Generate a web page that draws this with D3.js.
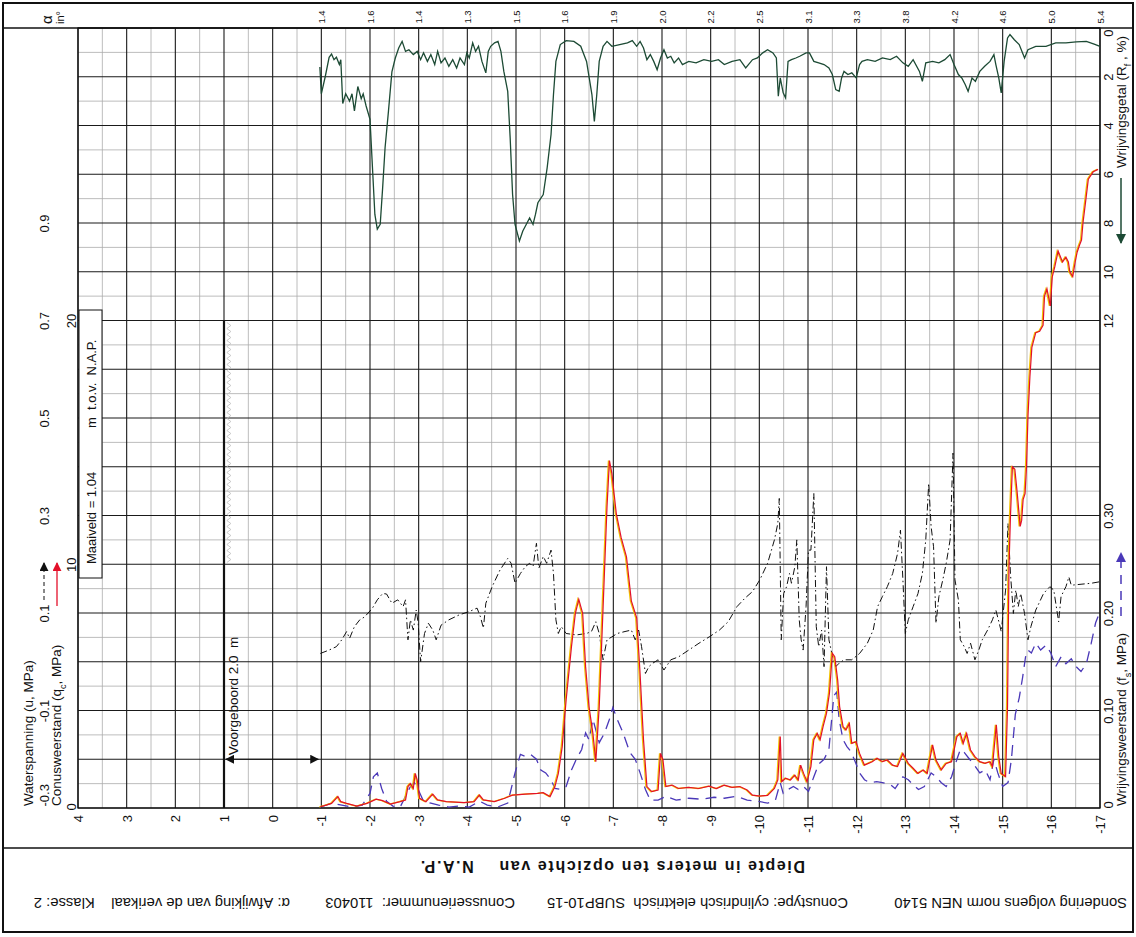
<!DOCTYPE html>
<html>
<head>
<meta charset="utf-8">
<script src="https://cdn.jsdelivr.net/npm/d3@7"></script>
<style>
body { margin: 0; background: #fff; }
svg text { font-family: "Liberation Sans", Arial, sans-serif; fill: #111; }
</style>
</head>
<body>
<svg id="sondering" width="1136" height="937"></svg>
<script>
// depth in m t.o.v. N.A.P.
const depthTicks = [4, 3, 2, 1, 0, -1, -2, -3, -4, -5, -6, -7, -8, -9, -10, -11, -12, -13, -14, -15, -16, -17];
const alphaDepths = [-1, -2, -3, -4, -5, -6, -7, -8, -9, -10, -11, -12, -13, -14, -15, -16, -17];
const alphaLabels = ["1.4", "1.6", "1.4", "1.3", "1.5", "1.6", "1.9", "2.0", "2.2", "2.5", "3.1", "3.3", "3.8", "4.2", "4.6", "5.0", "5.4"];
const uTicks = [-0.3, -0.1, 0.1, 0.3, 0.5, 0.7, 0.9];
const qcTicks = [0, 10, 20];
const rfTicks = [0, 2, 4, 6, 8, 10, 12];
const fsTicks = [0, 0.1, 0.2, 0.3];

// [depth, Rf %]
const rfProfile = [[-0.97,1.6],[-1.0,2.7],[-1.08,2.0],[-1.16,1.2],[-1.21,1.07],[-1.26,1.3],[-1.31,1.2],[-1.37,1.5],[-1.40,1.3],[-1.44,3.1],[-1.50,2.7],[-1.58,3.0],[-1.63,2.7],[-1.68,3.4],[-1.75,2.4],[-1.82,2.9],[-1.86,2.7],[-1.92,3.2],[-2.0,3.75],[-2.05,5.7],[-2.10,7.65],[-2.15,8.25],[-2.21,8.05],[-2.26,6.55],[-2.31,4.9],[-2.38,3.4],[-2.45,1.8],[-2.52,1.23],[-2.59,0.82],[-2.66,0.55],[-2.73,0.96],[-2.80,0.89],[-2.89,1.09],[-2.97,0.96],[-3.04,1.3],[-3.10,1.02],[-3.18,1.37],[-3.25,1.09],[-3.33,1.5],[-3.39,0.96],[-3.46,1.43],[-3.54,1.23],[-3.62,1.57],[-3.70,1.3],[-3.78,1.64],[-3.85,1.23],[-3.94,1.5],[-3.99,1.02],[-4.04,1.23],[-4.11,0.61],[-4.17,0.96],[-4.23,0.75],[-4.30,1.37],[-4.38,1.84],[-4.43,0.96],[-4.48,0.75],[-4.56,0.61],[-4.63,0.55],[-4.69,0.96],[-4.75,1.78],[-4.83,2.6],[-4.88,4.5],[-4.93,6.83],[-4.98,8.06],[-5.07,8.74],[-5.14,8.33],[-5.21,8.06],[-5.28,7.79],[-5.35,8.06],[-5.40,7.65],[-5.45,7.17],[-5.56,6.83],[-5.64,5.74],[-5.72,4.37],[-5.77,2.73],[-5.82,1.37],[-5.91,0.68],[-6.03,0.52],[-6.19,0.55],[-6.33,0.75],[-6.45,1.37],[-6.56,2.73],[-6.61,3.83],[-6.66,2.73],[-6.71,1.37],[-6.79,0.75],[-6.87,0.55],[-6.97,0.75],[-7.13,0.68],[-7.29,0.61],[-7.39,0.52],[-7.48,0.75],[-7.55,0.55],[-7.62,0.82],[-7.69,1.3],[-7.76,1.09],[-7.83,1.37],[-7.90,1.71],[-7.97,1.23],[-8.04,0.89],[-8.11,1.23],[-8.18,1.16],[-8.25,1.43],[-8.34,1.23],[-8.42,1.5],[-8.55,1.37],[-8.70,1.43],[-8.86,1.3],[-9.02,1.37],[-9.16,1.3],[-9.28,1.5],[-9.44,1.37],[-9.60,1.3],[-9.72,1.64],[-9.86,1.3],[-9.96,1.23],[-10.07,1.02],[-10.17,0.89],[-10.28,1.02],[-10.35,1.23],[-10.39,2.8],[-10.43,2.05],[-10.49,2.66],[-10.54,2.87],[-10.59,1.37],[-10.66,1.3],[-10.75,1.23],[-10.83,1.16],[-10.96,1.02],[-11.03,1.02],[-11.12,1.37],[-11.22,1.43],[-11.33,1.5],[-11.43,1.64],[-11.50,1.91],[-11.57,2.53],[-11.64,2.6],[-11.69,2.05],[-11.74,1.78],[-11.82,1.91],[-11.90,1.84],[-11.99,2.05],[-12.06,1.5],[-12.11,1.37],[-12.22,1.3],[-12.38,1.37],[-12.53,1.23],[-12.69,1.3],[-12.82,1.16],[-12.95,1.43],[-13.06,1.57],[-13.16,1.3],[-13.29,1.78],[-13.35,2.19],[-13.42,1.43],[-13.56,1.37],[-13.69,1.43],[-13.81,1.3],[-13.92,1.09],[-14.0,1.5],[-14.09,1.91],[-14.16,2.05],[-14.23,2.32],[-14.29,2.6],[-14.37,2.05],[-14.44,2.19],[-14.53,1.78],[-14.63,1.57],[-14.74,1.37],[-14.82,1.09],[-14.86,1.5],[-14.92,2.05],[-14.97,2.66],[-15.03,1.37],[-15.10,0.41],[-15.15,0.27],[-15.24,0.48],[-15.34,0.68],[-15.45,1.23],[-15.52,0.89],[-15.68,0.75],[-15.89,0.75],[-16.09,0.61],[-16.30,0.61],[-16.51,0.57],[-16.72,0.55],[-16.88,0.66],[-17.0,0.75]];

// [depth, qc MPa]
const qcProfile = [[-0.98,0.05],[-1.1,0.12],[-1.21,0.19],[-1.34,0.47],[-1.40,0.26],[-1.52,0.19],[-1.73,0.08],[-1.94,0.19],[-2.13,0.36],[-2.26,0.3],[-2.42,0.16],[-2.62,0.26],[-2.73,0.33],[-2.78,0.88],[-2.83,1.0],[-2.89,0.8],[-2.93,1.42],[-2.97,1.15],[-3.02,0.4],[-3.15,0.26],[-3.29,0.57],[-3.39,0.33],[-3.57,0.26],[-3.94,0.22],[-4.14,0.26],[-4.25,0.53],[-4.33,0.33],[-4.56,0.26],[-4.77,0.4],[-4.93,0.53],[-5.19,0.57],[-5.45,0.6],[-5.56,0.63],[-5.70,0.47],[-5.80,0.88],[-5.87,1.42],[-5.95,2.52],[-6.03,4.43],[-6.14,6.62],[-6.22,7.99],[-6.29,8.56],[-6.37,7.99],[-6.43,5.8],[-6.50,4.16],[-6.58,3.06],[-6.64,1.9],[-6.71,4.16],[-6.79,8.26],[-6.87,12.37],[-6.92,14.25],[-6.97,13.73],[-7.06,12.09],[-7.16,11.1],[-7.27,10.3],[-7.37,8.5],[-7.48,7.8],[-7.55,5.5],[-7.62,2.8],[-7.69,0.88],[-7.79,0.67],[-7.92,0.74],[-7.97,2.24],[-8.02,1.97],[-8.08,0.88],[-8.21,0.94],[-8.34,0.8],[-8.55,0.85],[-8.76,0.8],[-8.97,0.9],[-9.12,0.8],[-9.28,0.94],[-9.44,0.85],[-9.60,0.88],[-9.75,0.74],[-9.86,0.53],[-10.01,0.49],[-10.17,0.52],[-10.31,0.8],[-10.38,1.15],[-10.43,2.93],[-10.46,1.08],[-10.54,1.22],[-10.64,1.15],[-10.73,1.35],[-10.80,1.15],[-10.85,1.76],[-10.91,1.42],[-10.98,1.08],[-11.06,1.7],[-11.12,2.8],[-11.19,3.06],[-11.25,2.8],[-11.31,3.34],[-11.38,3.88],[-11.44,4.7],[-11.50,6.35],[-11.55,6.21],[-11.61,5.25],[-11.65,4.16],[-11.72,3.34],[-11.78,3.2],[-11.85,3.47],[-11.90,2.65],[-11.99,2.72],[-12.06,2.24],[-12.16,1.76],[-12.32,1.9],[-12.42,2.04],[-12.53,1.9],[-12.63,1.97],[-12.74,1.76],[-12.84,1.7],[-12.95,2.24],[-13.06,1.83],[-13.16,1.63],[-13.26,1.42],[-13.37,1.56],[-13.45,1.42],[-13.56,2.59],[-13.63,1.97],[-13.74,1.56],[-13.84,1.83],[-13.95,1.9],[-14.06,2.93],[-14.13,3.06],[-14.19,2.65],[-14.26,3.06],[-14.34,2.38],[-14.43,2.11],[-14.53,1.9],[-14.64,1.83],[-14.74,1.9],[-14.79,1.7],[-14.87,3.41],[-14.92,2.11],[-14.97,1.42],[-15.06,1.29],[-15.10,4.2],[-15.13,9.9],[-15.16,11.96],[-15.2,14.0],[-15.25,13.9],[-15.3,12.9],[-15.36,11.55],[-15.39,11.8],[-15.42,12.65],[-15.46,12.9],[-15.49,14.0],[-15.52,16.07],[-15.56,17.7],[-15.6,18.9],[-15.68,19.5],[-15.76,19.56],[-15.83,19.8],[-15.86,21.0],[-15.91,21.3],[-15.98,20.6],[-16.02,21.8],[-16.07,22.2],[-16.14,22.85],[-16.23,22.4],[-16.3,22.6],[-16.35,22.4],[-16.38,22.0],[-16.44,21.8],[-16.49,22.4],[-16.53,22.8],[-16.58,23.1],[-16.62,23.3],[-16.65,24.0],[-16.71,24.97],[-16.76,25.8],[-16.86,26.1],[-16.96,26.2]];

// [depth, fs MPa]
const fsProfile = [[-0.98,0.001],[-1.21,0.005],[-1.42,0.003],[-1.63,0.001],[-1.84,0.003],[-2.0,0.015],[-2.07,0.032],[-2.15,0.036],[-2.24,0.02],[-2.34,0.007],[-2.47,0.002],[-2.62,0.001],[-2.73,0.012],[-2.83,0.022],[-2.91,0.026],[-2.99,0.019],[-3.10,0.007],[-3.25,0.005],[-3.41,0.003],[-3.62,0.001],[-3.83,0.002],[-4.04,0.001],[-4.25,0.007],[-4.41,0.003],[-4.62,0.001],[-4.83,0.005],[-4.98,0.036],[-5.09,0.055],[-5.19,0.053],[-5.30,0.055],[-5.42,0.05],[-5.51,0.039],[-5.61,0.036],[-5.72,0.029],[-5.80,0.02],[-5.93,0.019],[-6.03,0.022],[-6.14,0.039],[-6.24,0.05],[-6.35,0.06],[-6.43,0.077],[-6.50,0.07],[-6.58,0.091],[-6.64,0.08],[-6.71,0.067],[-6.82,0.077],[-6.92,0.091],[-6.99,0.103],[-7.08,0.091],[-7.20,0.077],[-7.34,0.057],[-7.45,0.05],[-7.55,0.036],[-7.66,0.019],[-7.76,0.008],[-7.92,0.008],[-8.08,0.012],[-8.29,0.008],[-8.55,0.01],[-8.81,0.009],[-9.07,0.011],[-9.28,0.01],[-9.54,0.012],[-9.75,0.008],[-9.96,0.007],[-10.17,0.005],[-10.33,0.008],[-10.43,0.026],[-10.49,0.015],[-10.59,0.019],[-10.70,0.022],[-10.80,0.019],[-10.91,0.022],[-11.01,0.017],[-11.12,0.032],[-11.22,0.045],[-11.33,0.05],[-11.43,0.06],[-11.53,0.115],[-11.59,0.119],[-11.64,0.091],[-11.72,0.07],[-11.80,0.063],[-11.88,0.058],[-11.95,0.05],[-12.06,0.036],[-12.16,0.029],[-12.27,0.026],[-12.41,0.027],[-12.53,0.026],[-12.69,0.024],[-12.79,0.02],[-12.95,0.032],[-13.06,0.029],[-13.16,0.024],[-13.27,0.019],[-13.39,0.022],[-13.53,0.036],[-13.63,0.032],[-13.74,0.026],[-13.84,0.022],[-13.95,0.032],[-14.06,0.05],[-14.13,0.06],[-14.21,0.057],[-14.32,0.05],[-14.43,0.043],[-14.53,0.036],[-14.64,0.039],[-14.74,0.029],[-14.82,0.05],[-14.90,0.036],[-15.0,0.022],[-15.11,0.026],[-15.18,0.05],[-15.26,0.096],[-15.34,0.113],[-15.41,0.134],[-15.47,0.155],[-15.52,0.162],[-15.59,0.159],[-15.68,0.169],[-15.78,0.162],[-15.89,0.167],[-15.99,0.159],[-16.09,0.145],[-16.20,0.155],[-16.30,0.148],[-16.41,0.153],[-16.51,0.145],[-16.61,0.14],[-16.72,0.148],[-16.82,0.169],[-16.91,0.19],[-16.98,0.199]];

// [depth, u MPa]
const uProfile = [[-0.98,0.017],[-1.16,0.024],[-1.31,0.031],[-1.42,0.045],[-1.52,0.062],[-1.58,0.048],[-1.68,0.072],[-1.79,0.086],[-1.89,0.092],[-2.05,0.11],[-2.15,0.127],[-2.26,0.14],[-2.34,0.139],[-2.45,0.12],[-2.57,0.127],[-2.68,0.113],[-2.73,0.127],[-2.78,0.045],[-2.83,0.086],[-2.89,0.065],[-2.95,0.106],[-2.99,0.079],[-3.04,0.0],[-3.12,0.058],[-3.20,0.079],[-3.29,0.065],[-3.36,0.045],[-3.46,0.075],[-3.62,0.086],[-3.83,0.096],[-4.04,0.103],[-4.20,0.11],[-4.27,0.092],[-4.33,0.069],[-4.38,0.12],[-4.51,0.154],[-4.67,0.188],[-4.83,0.212],[-4.90,0.202],[-4.98,0.161],[-5.09,0.181],[-5.19,0.195],[-5.28,0.202],[-5.35,0.195],[-5.42,0.243],[-5.47,0.192],[-5.56,0.216],[-5.63,0.202],[-5.72,0.229],[-5.77,0.181],[-5.82,0.086],[-5.87,0.058],[-5.93,0.072],[-6.03,0.058],[-6.24,0.055],[-6.45,0.058],[-6.55,0.062],[-6.64,0.082],[-6.71,0.058],[-6.79,0.004],[-6.87,0.045],[-6.97,0.051],[-7.08,0.058],[-7.24,0.062],[-7.37,0.065],[-7.45,0.045],[-7.52,0.065],[-7.58,0.031],[-7.66,-0.024],[-7.73,-0.01],[-7.81,-0.003],[-7.92,0.004],[-8.04,-0.017],[-8.18,0.004],[-8.34,0.01],[-8.55,0.024],[-8.76,0.038],[-8.97,0.051],[-9.18,0.065],[-9.36,0.082],[-9.54,0.113],[-9.70,0.13],[-9.86,0.144],[-10.01,0.168],[-10.17,0.202],[-10.31,0.25],[-10.38,0.284],[-10.41,0.335],[-10.45,0.045],[-10.50,0.14],[-10.56,0.154],[-10.62,0.181],[-10.66,0.161],[-10.73,0.195],[-10.77,0.25],[-10.82,0.086],[-10.86,0.045],[-10.90,0.024],[-10.96,0.113],[-11.01,0.229],[-11.06,0.229],[-11.12,0.345],[-11.17,0.072],[-11.22,0.031],[-11.28,0.065],[-11.33,-0.01],[-11.38,0.195],[-11.43,0.045],[-11.49,0.017],[-11.57,-0.01],[-11.64,-0.003],[-11.74,0.004],[-11.90,0.004],[-12.06,0.017],[-12.22,0.038],[-12.34,0.065],[-12.43,0.113],[-12.53,0.134],[-12.63,0.154],[-12.74,0.181],[-12.84,0.222],[-12.90,0.27],[-12.95,0.168],[-13.0,0.058],[-13.06,0.086],[-13.16,0.113],[-13.26,0.14],[-13.35,0.181],[-13.42,0.25],[-13.48,0.366],[-13.53,0.277],[-13.58,0.236],[-13.63,0.079],[-13.69,0.134],[-13.77,0.168],[-13.84,0.202],[-13.92,0.25],[-13.98,0.428],[-14.02,0.168],[-14.09,0.127],[-14.13,0.045],[-14.21,0.031],[-14.27,0.017],[-14.34,0.038],[-14.43,0.004],[-14.51,0.024],[-14.58,0.045],[-14.69,0.065],[-14.79,0.086],[-14.86,0.106],[-14.93,0.079],[-14.97,0.062],[-15.06,0.147],[-15.11,0.284],[-15.16,0.181],[-15.22,0.099],[-15.27,0.147],[-15.32,0.113],[-15.37,0.14],[-15.45,0.099],[-15.52,0.045],[-15.58,0.072],[-15.68,0.106],[-15.84,0.14],[-15.97,0.154],[-16.05,0.147],[-16.15,0.082],[-16.20,0.134],[-16.30,0.154],[-16.36,0.174],[-16.41,0.157],[-16.61,0.159],[-16.82,0.161],[-16.99,0.164]];

const svg = d3.select("#sondering");
const plotLeft = 78, plotRight = 1100, plotTop = 28, plotBottom = 808;

const x = d3.scaleLinear().domain([4, -17]).range([plotLeft, plotRight]);
const yQc = d3.scaleLinear().domain([0, 32]).range([plotBottom, plotTop]);
const yFs = d3.scaleLinear().domain([0, 0.8]).range([plotBottom, plotTop]);
const yRf = d3.scaleLinear().domain([0, 32]).range([plotTop, plotBottom]);
const yU = d3.scaleLinear().domain([-0.3, 1.3]).range([plotBottom, plotTop]);

// arrow heads
const defs = svg.append("defs");
function marker(id, color, size) {
    defs.append("marker")
        .attr("id", id)
        .attr("viewBox", "0 0 10 10")
        .attr("refX", 9).attr("refY", 5)
        .attr("markerWidth", size).attr("markerHeight", size)
        .attr("markerUnits", "userSpaceOnUse")
        .attr("orient", "auto-start-reverse")
        .append("path")
        .attr("d", "M0,0 L10,5 L0,10 z")
        .attr("fill", color);
}
marker("arrBlack", "#111", 9);
marker("arrRed", "#e3102a", 9);
marker("arrGreen", "#1c4a34", 10);
marker("arrPurple", "#4a38b8", 10);

// grid
const grid = svg.append("g");
const halfDepths = d3.range(8, -35, -1).map(d => d / 2);
const qcSteps = d3.range(0, 33, 1);
grid.selectAll(".vminor").data(halfDepths.filter(d => d % 1 !== 0)).join("line")
    .attr("x1", d => x(d)).attr("x2", d => x(d))
    .attr("y1", plotTop).attr("y2", plotBottom)
    .attr("stroke", "#ababab").attr("stroke-width", 0.8);
grid.selectAll(".hminor").data(qcSteps.filter(d => d % 2 !== 0)).join("line")
    .attr("x1", plotLeft).attr("x2", plotRight)
    .attr("y1", d => yQc(d)).attr("y2", d => yQc(d))
    .attr("stroke", "#ababab").attr("stroke-width", 0.8);
grid.selectAll(".vmajor").data(depthTicks).join("line")
    .attr("x1", d => x(d)).attr("x2", d => x(d))
    .attr("y1", plotTop).attr("y2", plotBottom)
    .attr("stroke", "#1a1a1a").attr("stroke-width", 1.1);
grid.selectAll(".hmajor").data(qcSteps.filter(d => d % 2 === 0)).join("line")
    .attr("x1", plotLeft).attr("x2", plotRight)
    .attr("y1", d => yQc(d)).attr("y2", d => yQc(d))
    .attr("stroke", "#1a1a1a").attr("stroke-width", 1.1);

// frame
svg.append("rect").attr("x", 3).attr("y", 3).attr("width", 1130).attr("height", 929)
    .attr("fill", "none").attr("stroke", "#111").attr("stroke-width", 2);
svg.append("line").attr("x1", 3).attr("x2", 1133).attr("y1", plotTop).attr("y2", plotTop)
    .attr("stroke", "#111").attr("stroke-width", 1.5);
svg.append("line").attr("x1", 3).attr("x2", 1133).attr("y1", 848).attr("y2", 848)
    .attr("stroke", "#111").attr("stroke-width", 1.5);
svg.append("rect").attr("x", plotLeft).attr("y", plotTop).attr("width", plotRight - plotLeft).attr("height", plotBottom - plotTop)
    .attr("fill", "none").attr("stroke", "#111").attr("stroke-width", 1.3);

// pre-drilled part and ground level
svg.append("line")
    .attr("x1", x(1)).attr("x2", x(1)).attr("y1", yQc(20)).attr("y2", plotBottom)
    .attr("stroke", "#111").attr("stroke-width", 2.2);
const zig = d3.range(yQc(20) + 2, yQc(10), 3).map((py, i) => [x(0.9) + (i % 2 ? 2 : -2), py]);
svg.append("path").attr("d", d3.line()(zig))
    .attr("fill", "none").attr("stroke", "#bdbdbd").attr("stroke-width", 0.8);
svg.append("line")
    .attr("x1", x(1) + 2).attr("x2", x(-1) - 3).attr("y1", yQc(2)).attr("y2", yQc(2))
    .attr("stroke", "#111").attr("stroke-width", 1.2)
    .attr("marker-start", "url(#arrBlack)").attr("marker-end", "url(#arrBlack)");
svg.append("text")
    .attr("transform", `translate(${x(1) + 14},${yQc(2) - 4}) rotate(-90)`)
    .style("font-size", "13.5px").style("white-space", "pre")
    .text("Voorgeboord 2.0  m");

svg.append("rect").attr("x", 79).attr("y", 310).attr("width", 23).attr("height", 268)
    .attr("fill", "#fff").attr("stroke", "#111").attr("stroke-width", 1);
svg.append("text").attr("transform", "translate(96,564) rotate(-90)")
    .style("font-size", "13px").style("white-space", "pre").text("Maaiveld = 1.04");
svg.append("text").attr("transform", "translate(96,428) rotate(-90)")
    .style("font-size", "13px").style("white-space", "pre").text("m  t.o.v.  N.A.P.");

// profiles
const line = (ys) => d3.line().x(d => x(d[0])).y(d => ys(d[1]));

svg.append("path").datum(uProfile).attr("d", line(yU))
    .attr("fill", "none").attr("stroke", "#111").attr("stroke-width", 1)
    .attr("stroke-dasharray", "7,3,1.5,3");
svg.append("path").datum(fsProfile).attr("d", line(yFs))
    .attr("fill", "none").attr("stroke", "#4a38b8").attr("stroke-width", 1.3)
    .attr("stroke-dasharray", "11,7");
svg.append("path").datum(qcProfile).attr("d", line(yQc))
    .attr("transform", "translate(-1,0)")
    .attr("fill", "none").attr("stroke", "#f2c400").attr("stroke-width", 1.3);
svg.append("path").datum(qcProfile).attr("d", line(yQc))
    .attr("fill", "none").attr("stroke", "#e3102a").attr("stroke-width", 1.2);
svg.append("path").datum(rfProfile).attr("d", line(yRf))
    .attr("fill", "none").attr("stroke", "#1c4a34").attr("stroke-width", 1.3);

// axes
function rotateLabels(g, size) {
    g.select(".domain").remove();
    g.selectAll(".tick line").remove();
    g.selectAll(".tick text")
        .attr("x", 0).attr("y", 0).attr("dy", "0.35em")
        .attr("transform", "rotate(-90)")
        .style("text-anchor", "middle")
        .style("font-size", size)
        .style("font-family", "'Liberation Sans', Arial, sans-serif")
        .attr("fill", "#111");
}

svg.append("g").attr("transform", `translate(0,${plotBottom + 7})`)
    .call(d3.axisBottom(x).tickValues(depthTicks).tickSize(0).tickFormat(d => String(d)))
    .call(g => rotateLabels(g, "13px"))
    .call(g => g.selectAll(".tick text").style("text-anchor", "end"));

svg.append("g").attr("transform", "translate(0,17)")
    .call(d3.axisTop(x).tickValues(alphaDepths).tickSize(0).tickFormat((d, i) => alphaLabels[i]))
    .call(g => rotateLabels(g, "9.5px"));

svg.append("g").attr("transform", "translate(44,0)")
    .call(d3.axisLeft(yU).tickValues(uTicks).tickSize(0).tickFormat(d => String(+d.toFixed(1))))
    .call(g => rotateLabels(g, "13px"))
    .call(g => g.selectAll(".tick text").filter(d => d === -0.3).style("text-anchor", "start").attr("x", 2));

svg.append("g").attr("transform", "translate(71,0)")
    .call(d3.axisLeft(yQc).tickValues(qcTicks).tickSize(0).tickFormat(d => String(d)))
    .call(g => rotateLabels(g, "13px"))
    .call(g => g.selectAll(".tick text").filter(d => d === 0).style("text-anchor", "start").attr("x", -2));

svg.append("g").attr("transform", "translate(1108,0)")
    .call(d3.axisRight(yRf).tickValues(rfTicks).tickSize(0).tickFormat(d => String(d)))
    .call(g => rotateLabels(g, "13px"))
    .call(g => g.selectAll(".tick text").filter(d => d === 0).style("text-anchor", "end").attr("x", -1));

svg.append("g").attr("transform", "translate(1108,0)")
    .call(d3.axisRight(yFs).tickValues(fsTicks).tickSize(0).tickFormat(d => d === 0 ? "0" : d3.format(".2f")(d)))
    .call(g => rotateLabels(g, "13px"))
    .call(g => g.selectAll(".tick text").filter(d => d === 0).style("text-anchor", "start").attr("x", 0));

// axis titles
const title = (tx, ty, parts) => {
    const t = svg.append("text").attr("transform", `translate(${tx},${ty}) rotate(-90)`)
        .style("font-size", "13.5px").style("white-space", "pre");
    parts.forEach(p => {
        const s = t.append("tspan").text(p[0]);
        if (p[1]) s.attr("baseline-shift", "sub").style("font-size", "9px");
    });
};
title(33, 806, [["Waterspanning (u, MPa)"]]);
title(61, 806, [["Conusweerstand (q"], ["c", true], [", MPa)"]]);
title(1126, 168, [["Wrijvingsgetal (R"], ["f", true], [" , %)"]]);
title(1126, 806, [["Wrijvingsweerstand (f"], ["s", true], [", MPa)"]]);

svg.append("text").attr("transform", "translate(52,24) rotate(-90)").style("font-size", "15px").text("α");
svg.append("text").attr("transform", "translate(64,24) rotate(-90)").style("font-size", "11px").text("in°");

// legend samples
svg.append("line").attr("x1", 44).attr("x2", 44).attr("y1", 600).attr("y2", 563)
    .attr("stroke", "#111").attr("stroke-width", 1).attr("stroke-dasharray", "4,3")
    .attr("marker-end", "url(#arrBlack)");
svg.append("line").attr("x1", 57).attr("x2", 57).attr("y1", 606).attr("y2", 563)
    .attr("stroke", "#e3102a").attr("stroke-width", 1.3)
    .attr("marker-end", "url(#arrRed)");
svg.append("line").attr("x1", 1121).attr("x2", 1121).attr("y1", 178).attr("y2", 243)
    .attr("stroke", "#1c4a34").attr("stroke-width", 1.5)
    .attr("marker-end", "url(#arrGreen)");
svg.append("line").attr("x1", 1121).attr("x2", 1121).attr("y1", 616).attr("y2", 553)
    .attr("stroke", "#4a38b8").attr("stroke-width", 1.5).attr("stroke-dasharray", "9,7")
    .attr("marker-end", "url(#arrPurple)");

// footer (printed upside down)
const foot = (tx, ty, txt, bold) => svg.append("text")
    .attr("transform", `translate(${tx},${ty}) rotate(180)`)
    .style("font-size", bold ? "16px" : "14.8px").style("white-space", "pre")
    .style("font-weight", bold ? "bold" : "normal")
    .style("letter-spacing", bold ? "1.6px" : "0px")
    .text(txt);
foot(805, 861, "Diepte in meters ten opzichte van    N.A.P.", true);
foot(1127, 898, "Sondering volgens norm NEN 5140");
foot(848, 898, "Conustype: cylindrisch elektrisch  SUBP10-15");
foot(515, 898, "Conusserienummer:  110403");
foot(290, 898, "α: Afwijking van de verikaal    Klasse: 2");
</script>
</body>
</html>
